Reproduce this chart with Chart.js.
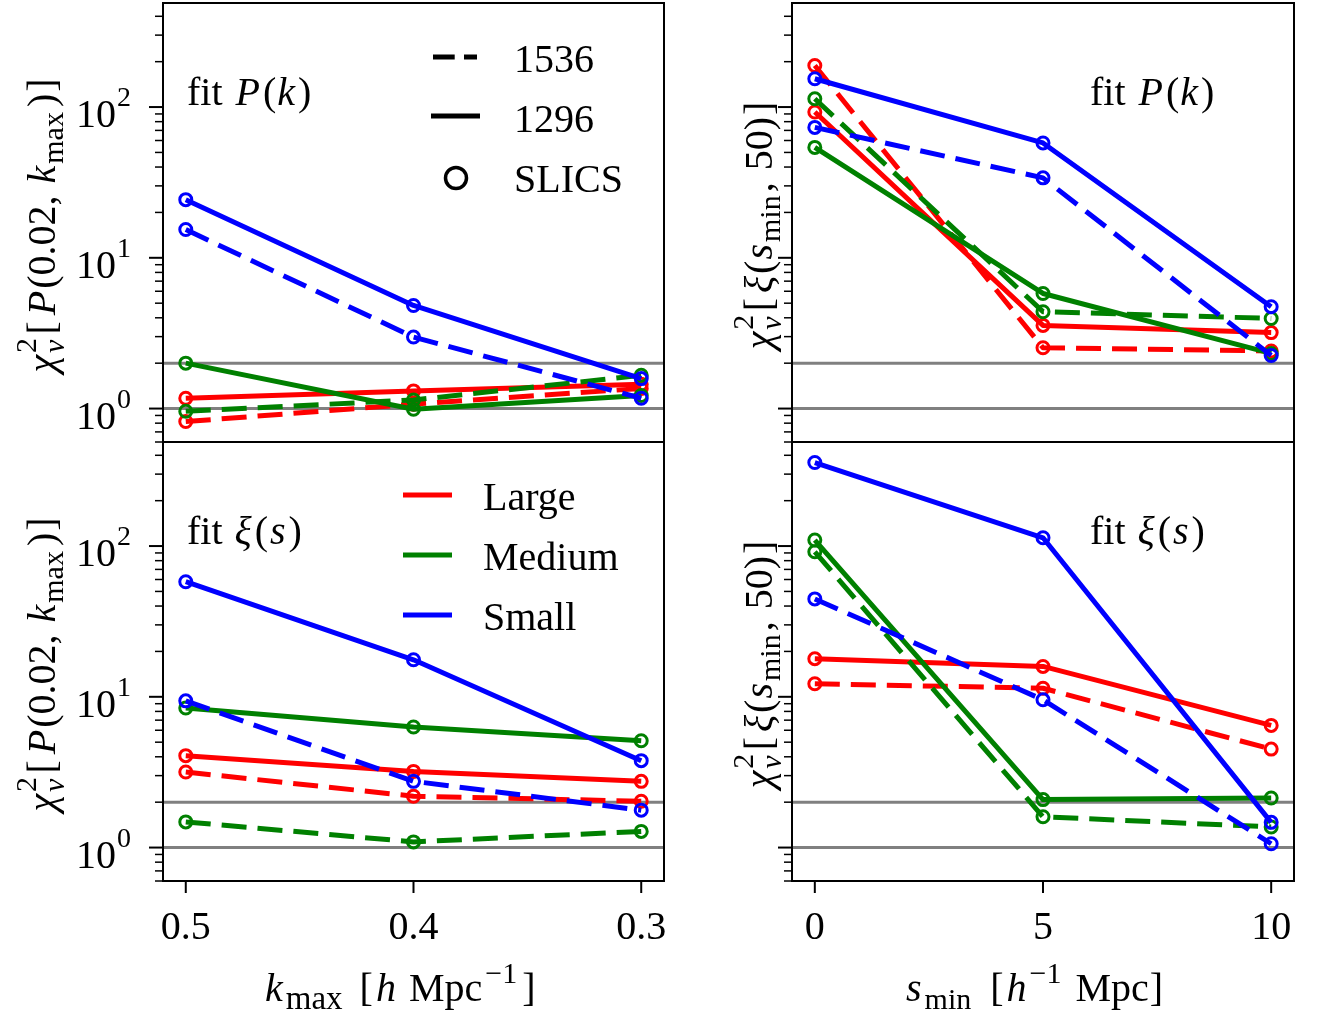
<!DOCTYPE html>
<html>
<head>
<meta charset="utf-8">
<script src="https://cdn.jsdelivr.net/npm/chart.js@4.4.0/dist/chart.umd.min.js"></script>
<style>
  html, body { margin: 0; padding: 0; background: #fff; }
  #wrap { position: relative; width: 1317px; height: 1014px; overflow: hidden; }
  #wrap canvas { position: absolute; left: 0; top: 0; }
</style>
</head>
<body>
<div id="wrap">
  <canvas id="pkKmax" width="1317" height="1014"></canvas>
  <canvas id="pkSmin" width="1317" height="1014"></canvas>
  <canvas id="xiKmax" width="1317" height="1014"></canvas>
  <canvas id="xiSmin" width="1317" height="1014"></canvas>
</div>
<script>
// axes
const kmaxTicks = [0.5, 0.4, 0.3];
const kmaxTickLabels = ['0.5', '0.4', '0.3'];
const sminTicks = [0, 5, 10];
const sminTickLabels = ['0', '5', '10'];
const yMajorTicks = [1, 10, 100];
const yMajorExponents = ['0', '1', '2'];
const yMinorTicks = [0.6, 0.7, 0.8, 0.9, 2, 3, 4, 5, 6, 7, 8, 9, 20, 30, 40, 50, 60, 70, 80, 90, 200, 300, 400];
const refLevels = [1, 2];
const sizeNames = ['Large', 'Medium', 'Small'];
const sizeColors = ['#ff0000', '#008000', '#0000ff'];
const boxLabels = ['1536', '1296'];

// fit P(k), against k_max
const pkKmaxLarge1536 = [0.82, 1.07, 1.36];
const pkKmaxLarge1296 = [1.17, 1.31, 1.45];
const pkKmaxMedium1536 = [0.96, 1.14, 1.66];
const pkKmaxMedium1296 = [2.0, 0.99, 1.22];
const pkKmaxSmall1536 = [15.4, 2.98, 1.17];
const pkKmaxSmall1296 = [24.3, 4.83, 1.58];

// fit P(k), against s_min
const pkSminLarge1536 = [188.6, 2.53, 2.41];
const pkSminLarge1296 = [92.7, 3.56, 3.19];
const pkSminMedium1536 = [113.5, 4.39, 3.96];
const pkSminMedium1296 = [54.0, 5.8, 2.32];
const pkSminSmall1536 = [73.3, 33.9, 2.25];
const pkSminSmall1296 = [154, 57.8, 4.74];

// fit xi(s), against k_max
const xiKmaxLarge1536 = [3.17, 2.19, 2.03];
const xiKmaxLarge1296 = [4.07, 3.2, 2.75];
const xiKmaxMedium1536 = [1.48, 1.09, 1.28];
const xiKmaxMedium1296 = [8.42, 6.3, 5.11];
const xiKmaxSmall1536 = [9.4, 2.75, 1.77];
const xiKmaxSmall1296 = [58.0, 17.6, 3.77];

// fit xi(s), against s_min
const xiSminLarge1536 = [12.2, 11.4, 4.5];
const xiSminLarge1296 = [17.9, 15.9, 6.46];
const xiSminMedium1536 = [91.6, 1.6, 1.37];
const xiSminMedium1296 = [109.6, 2.08, 2.13];
const xiSminSmall1536 = [44.6, 9.55, 1.06];
const xiSminSmall1296 = [358, 113.5, 1.47];

const W = 1317, H = 1014;
const SERIF = '"Liberation Serif", "Times New Roman", serif';
const MAIN = 40, SCRIPT = 30;

function font(size, italic) {
    return (italic ? 'italic ' : '') + size + 'px ' + SERIF;
}

function richWidth(ctx, parts) {
    let w = 0;
    parts.forEach(p => {
        ctx.font = font(p.s || MAIN, p.it);
        w += (p.gap || 0);
        if (!p.noAdv) w += ctx.measureText(p.t).width;
    });
    return w;
}

// draw a row of text pieces (italic, sub/superscripts) on one baseline
function drawRich(ctx, parts, x, y, align) {
    const w = richWidth(ctx, parts);
    let cx = align === 'center' ? x - w / 2 : align === 'right' ? x - w : x;
    ctx.textAlign = 'left';
    ctx.textBaseline = 'alphabetic';
    parts.forEach(p => {
        ctx.font = font(p.s || MAIN, p.it);
        cx += (p.gap || 0);
        ctx.fillText(p.t, cx, y + (p.dy || 0));
        if (!p.noAdv) cx += ctx.measureText(p.t).width;
    });
}

const chiNu = [
    { t: 'χ', it: true },
    { t: '2', s: SCRIPT, dy: -19, gap: 2, noAdv: true },
    { t: 'ν', it: true, s: SCRIPT, dy: 9, gap: 0 }
];
const yTitleKmax = chiNu.concat([
    { t: '[', gap: 5 }, { t: 'P', it: true, gap: 6 }, { t: '(0.02,', gap: 2 }, { t: 'k', it: true, gap: 12 },
    { t: 'max', s: SCRIPT, dy: 8, gap: 2 }, { t: ')', gap: 5 }, { t: ']', gap: 2 }
]);
const yTitleSmin = chiNu.concat([
    { t: '[', gap: 5 }, { t: 'ξ', it: true, gap: 5 }, { t: '(', gap: 2 }, { t: 's', it: true, gap: 1 },
    { t: 'min', s: SCRIPT, dy: 8, gap: 2 }, { t: ',', gap: 3 }, { t: '50)', gap: 12 }, { t: ']', gap: 2 }
]);
const xTitleKmax = [
    { t: 'k', it: true }, { t: 'max', s: SCRIPT + 3, dy: 8, gap: 3 }, { t: '[', gap: 17 }, { t: 'h', it: true, gap: 3 },
    { t: 'Mpc', gap: 13 }, { t: '−1', s: SCRIPT, dy: -18, gap: 3 }, { t: ']', gap: 5 }
];
const xTitleSmin = [
    { t: 's', it: true }, { t: 'min', s: SCRIPT, dy: 8, gap: 3 }, { t: '[', gap: 19 }, { t: 'h', it: true, gap: 3 },
    { t: '−1', s: SCRIPT, dy: -18, gap: 3 }, { t: 'Mpc', gap: 14 }, { t: ']', gap: 1 }
];
const notePk = [{ t: 'fit' }, { t: 'P', it: true, gap: 13 }, { t: '(', gap: 3 }, { t: 'k', it: true, gap: 1 }, { t: ')', gap: 3 }];
const noteXi = [{ t: 'fit' }, { t: 'ξ', it: true, gap: 12 }, { t: '(', gap: 3 }, { t: 's', it: true, gap: 2 }, { t: ')', gap: 3 }];

function makeDatasets(xs, bySize) {
    const out = [];
    bySize.forEach((pair, i) => {
        pair.forEach((vals, j) => {
            out.push({
                label: sizeNames[i] + ' ' + boxLabels[j],
                data: xs.map((x, k) => ({ x: x, y: vals[k] })),
                borderColor: sizeColors[i],
                borderWidth: 5,
                borderDash: j === 0 ? [25, 11] : [],
                borderJoinStyle: 'round',
                pointRadius: 6,
                pointHoverRadius: 6,
                pointBorderWidth: 3,
                pointBorderColor: sizeColors[i],
                pointBackgroundColor: 'rgba(0,0,0,0)',
                fill: false,
                tension: 0,
                order: 2 - i
            });
        });
    });
    return out;
}

function drawBoxLegend(ctx, a) {
    ctx.save();
    ctx.strokeStyle = '#000';
    ctx.lineWidth = 5;
    ctx.setLineDash([21.7, 9.3]);
    ctx.beginPath(); ctx.moveTo(a.left + 270, a.top + 54); ctx.lineTo(a.left + 314, a.top + 54); ctx.stroke();
    ctx.setLineDash([]);
    ctx.beginPath(); ctx.moveTo(a.left + 268, a.top + 113); ctx.lineTo(a.left + 317, a.top + 113); ctx.stroke();
    ctx.lineWidth = 3.5;
    ctx.beginPath(); ctx.arc(a.left + 293, a.top + 175, 10.5, 0, Math.PI * 2); ctx.stroke();
    ctx.fillStyle = '#000';
    ctx.font = font(MAIN);
    ctx.textAlign = 'left';
    ctx.fillText(boxLabels[0], a.left + 351, a.top + 69);
    ctx.fillText(boxLabels[1], a.left + 351, a.top + 129);
    ctx.fillText('SLICS', a.left + 351, a.top + 189);
    ctx.restore();
}

function drawSizeLegend(ctx, a) {
    ctx.save();
    ctx.lineWidth = 5;
    sizeNames.forEach((name, i) => {
        const y = a.top + 53 + i * 60;
        ctx.strokeStyle = sizeColors[i];
        ctx.beginPath(); ctx.moveTo(a.left + 240, y); ctx.lineTo(a.left + 289, y); ctx.stroke();
        ctx.fillStyle = '#000';
        ctx.font = font(MAIN);
        ctx.textAlign = 'left';
        ctx.fillText(name, a.left + 320, y + 15);
    });
    ctx.restore();
}

function makePanel(p) {
    const deco = {
        id: 'deco_' + p.id,
        beforeDatasetsDraw(chart) {
            const ctx = chart.ctx, a = chart.chartArea, ys = chart.scales.y;
            ctx.save();
            ctx.strokeStyle = '#808080';
            ctx.lineWidth = 3;
            refLevels.forEach(v => {
                const y = ys.getPixelForValue(v);
                ctx.beginPath(); ctx.moveTo(a.left, y); ctx.lineTo(a.right, y); ctx.stroke();
            });
            ctx.restore();
        },
        afterDraw(chart) {
            const ctx = chart.ctx, a = chart.chartArea;
            const xs = chart.scales.x, ys = chart.scales.y;
            ctx.save();
            ctx.strokeStyle = '#000';
            ctx.fillStyle = '#000';
            // y ticks
            ctx.lineWidth = 1.5;
            yMinorTicks.forEach(v => {
                const y = ys.getPixelForValue(v);
                if (y < a.top || y > a.bottom) return;
                ctx.beginPath(); ctx.moveTo(a.left - 8, y); ctx.lineTo(a.left, y); ctx.stroke();
            });
            ctx.lineWidth = 2;
            yMajorTicks.forEach((v, i) => {
                const y = ys.getPixelForValue(v);
                ctx.beginPath(); ctx.moveTo(a.left - 14, y); ctx.lineTo(a.left, y); ctx.stroke();
                if (p.yLabels) {
                    drawRich(ctx, [{ t: '10' }, { t: yMajorExponents[i], s: SCRIPT - 2, dy: -21, gap: 1 }], a.left - 32, y + 20, 'right');
                }
            });
            // x ticks on the bottom row only
            if (p.bottom) {
                p.xs.forEach((v, i) => {
                    const x = xs.getPixelForValue(v);
                    ctx.beginPath(); ctx.moveTo(x, a.bottom); ctx.lineTo(x, a.bottom + 12); ctx.stroke();
                    ctx.font = font(MAIN);
                    ctx.textAlign = 'center';
                    ctx.fillText(p.xLabels[i], x, a.bottom + 58);
                });
                drawRich(ctx, p.xTitle, a.left + p.xTitleDx, a.bottom + 120, 'left');
            }
            // spines
            ctx.lineWidth = 2;
            ctx.strokeRect(a.left, a.top, a.right - a.left, a.bottom - a.top);
            // y title
            ctx.save();
            ctx.translate(p.yTitleX, (a.top + a.bottom) / 2 + 3);
            ctx.rotate(-Math.PI / 2);
            drawRich(ctx, p.yTitle, 0, 0, 'center');
            ctx.restore();
            // panel note
            drawRich(ctx, p.note, a.left + p.noteDx, a.top + 102, 'left');
            if (p.legend === 'box') drawBoxLegend(ctx, a);
            if (p.legend === 'size') drawSizeLegend(ctx, a);
            ctx.restore();
        }
    };

    new Chart(document.getElementById(p.id), {
        type: 'line',
        data: { datasets: makeDatasets(p.xs, p.series) },
        options: {
            responsive: false,
            animation: false,
            events: [],
            layout: { autoPadding: false, padding: { left: p.area[0], top: p.area[1], right: W - p.area[2], bottom: H - p.area[3] } },
            plugins: { legend: { display: false }, tooltip: { enabled: false } },
            scales: {
                x: { type: 'linear', display: false, min: p.xMin, max: p.xMax, reverse: p.reverse },
                y: { type: 'logarithmic', display: false, min: 0.6, max: 490 }
            }
        },
        plugins: [deco]
    });
}

makePanel({
    id: 'pkKmax', area: [163, 3, 664, 442], xs: kmaxTicks, xLabels: kmaxTickLabels,
    xMin: 0.29, xMax: 0.51, reverse: true, bottom: false, yLabels: true,
    yTitle: yTitleKmax, yTitleX: 55, note: notePk, noteDx: 24, legend: 'box',
    series: [[pkKmaxLarge1536, pkKmaxLarge1296], [pkKmaxMedium1536, pkKmaxMedium1296], [pkKmaxSmall1536, pkKmaxSmall1296]]
});
makePanel({
    id: 'pkSmin', area: [792, 3, 1294, 442], xs: sminTicks, xLabels: sminTickLabels,
    xMin: -0.5, xMax: 10.5, reverse: false, bottom: false, yLabels: false,
    yTitle: yTitleSmin, yTitleX: 772, note: notePk, noteDx: 298,
    series: [[pkSminLarge1536, pkSminLarge1296], [pkSminMedium1536, pkSminMedium1296], [pkSminSmall1536, pkSminSmall1296]]
});
makePanel({
    id: 'xiKmax', area: [163, 442, 664, 881], xs: kmaxTicks, xLabels: kmaxTickLabels,
    xMin: 0.29, xMax: 0.51, reverse: true, bottom: true, yLabels: true, xTitle: xTitleKmax, xTitleDx: 102,
    yTitle: yTitleKmax, yTitleX: 55, note: noteXi, noteDx: 24, legend: 'size',
    series: [[xiKmaxLarge1536, xiKmaxLarge1296], [xiKmaxMedium1536, xiKmaxMedium1296], [xiKmaxSmall1536, xiKmaxSmall1296]]
});
makePanel({
    id: 'xiSmin', area: [792, 442, 1294, 881], xs: sminTicks, xLabels: sminTickLabels,
    xMin: -0.5, xMax: 10.5, reverse: false, bottom: true, yLabels: false, xTitle: xTitleSmin, xTitleDx: 114,
    yTitle: yTitleSmin, yTitleX: 772, note: noteXi, noteDx: 298,
    series: [[xiSminLarge1536, xiSminLarge1296], [xiSminMedium1536, xiSminMedium1296], [xiSminSmall1536, xiSminSmall1296]]
});
</script>
</body>
</html>
